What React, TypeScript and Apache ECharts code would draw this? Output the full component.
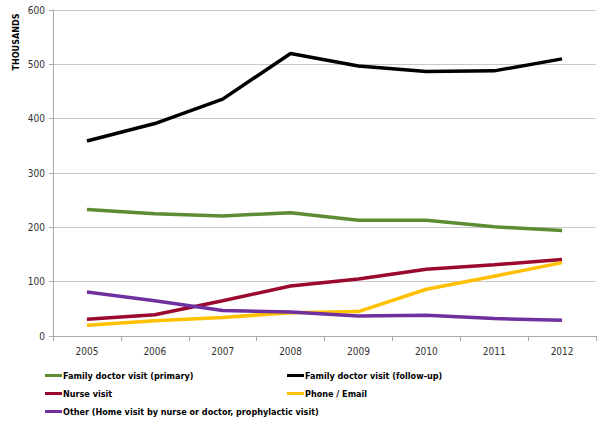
import React, { useEffect, useRef } from "react";
import * as echarts from "echarts";

const years = ["2005", "2006", "2007", "2008", "2009", "2010", "2011", "2012"];
const primary = [233, 225, 221, 227, 213, 213, 201, 194];
const followUp = [359, 391, 436, 520, 497, 487, 488, 510];
const nurse = [31, 39, 65, 92, 105, 123, 131, 141];
const phone = [20, 28, 34, 43, 45, 86, 110, 135];
const other = [81, 65, 47, 44, 37, 38, 32, 29];

const names = {
  primary: "Family doctor visit (primary)",
  followUp: "Family doctor visit (follow-up)",
  nurse: "Nurse visit",
  phone: "Phone / Email",
  other: "Other (Home visit by nurse or doctor, prophylactic visit)",
};

const colors = {
  primary: "#5e8c35",
  followUp: "#000000",
  nurse: "#9b0a2e",
  phone: "#ffc000",
  other: "#7030a0",
};

const font = '"Liberation Sans Narrow", "DejaVu Sans Condensed", "Liberation Sans", sans-serif';

export default function App() {
  const ref = useRef<HTMLDivElement>(null);
  useEffect(() => {
    if (!ref.current) return;
    const chart = echarts.init(ref.current, undefined, { renderer: "svg" });
    const mk = (key: keyof typeof names, data: number[]) => ({
      type: "line",
      name: names[key],
      data,
      symbol: "none",
      smooth: false,
      lineStyle: { width: 3.5, color: colors[key] },
      itemStyle: { color: colors[key] },
    });
    const leg = (key: keyof typeof names, left: number, top: number) => ({
      left,
      top,
      data: [names[key]],
      itemWidth: 17,
      itemHeight: 3,
      icon: "rect",
      padding: 0,
      textStyle: {
        fontFamily: font,
        fontWeight: "bold",
        fontSize: 9,
        color: "#000",
        padding: [0, 0, 0, -4],
      },
    });
    chart.setOption({
      animation: false,
      grid: { left: 53, right: 10, top: 10, bottom: 85, containLabel: false },
      legend: [
        leg("primary", 45, 371),
        leg("nurse", 45, 389),
        leg("other", 45, 407),
        leg("followUp", 287, 371),
        leg("phone", 287, 389),
      ],
      graphic: [
        {
          type: "text",
          x: 16,
          y: 42,
          rotation: Math.PI / 2,
          style: {
            text: "THOUSANDS",
            font: `bold 9px ${font}`,
            fill: "#000",
            textAlign: "center",
            textVerticalAlign: "middle",
          },
        },
      ],
      xAxis: {
        type: "category",
        data: years,
        boundaryGap: true,
        axisLine: { lineStyle: { color: "#aaaaaa", width: 1 } },
        axisTick: { show: true, length: 5, lineStyle: { color: "#aaaaaa" } },
        axisLabel: { fontFamily: font, fontSize: 10, color: "#333", margin: 10 },
      },
      yAxis: {
        type: "value",
        min: 0,
        max: 600,
        interval: 100,
        axisLine: { show: true, lineStyle: { color: "#aaaaaa", width: 1 } },
        axisTick: { show: true, length: 4, lineStyle: { color: "#aaaaaa" } },
        axisLabel: { fontFamily: font, fontSize: 10, color: "#333", margin: 8 },
        splitLine: { lineStyle: { color: "#c8c8c8", width: 1 } },
      },
      series: [
        mk("primary", primary),
        mk("followUp", followUp),
        mk("nurse", nurse),
        mk("phone", phone),
        mk("other", other),
      ],
    });
    return () => chart.dispose();
  }, []);
  return (
    <div
      ref={ref}
      style={{ position: "fixed", left: 0, top: 0, width: 606, height: 421, background: "#fff" }}
    />
  );
}
